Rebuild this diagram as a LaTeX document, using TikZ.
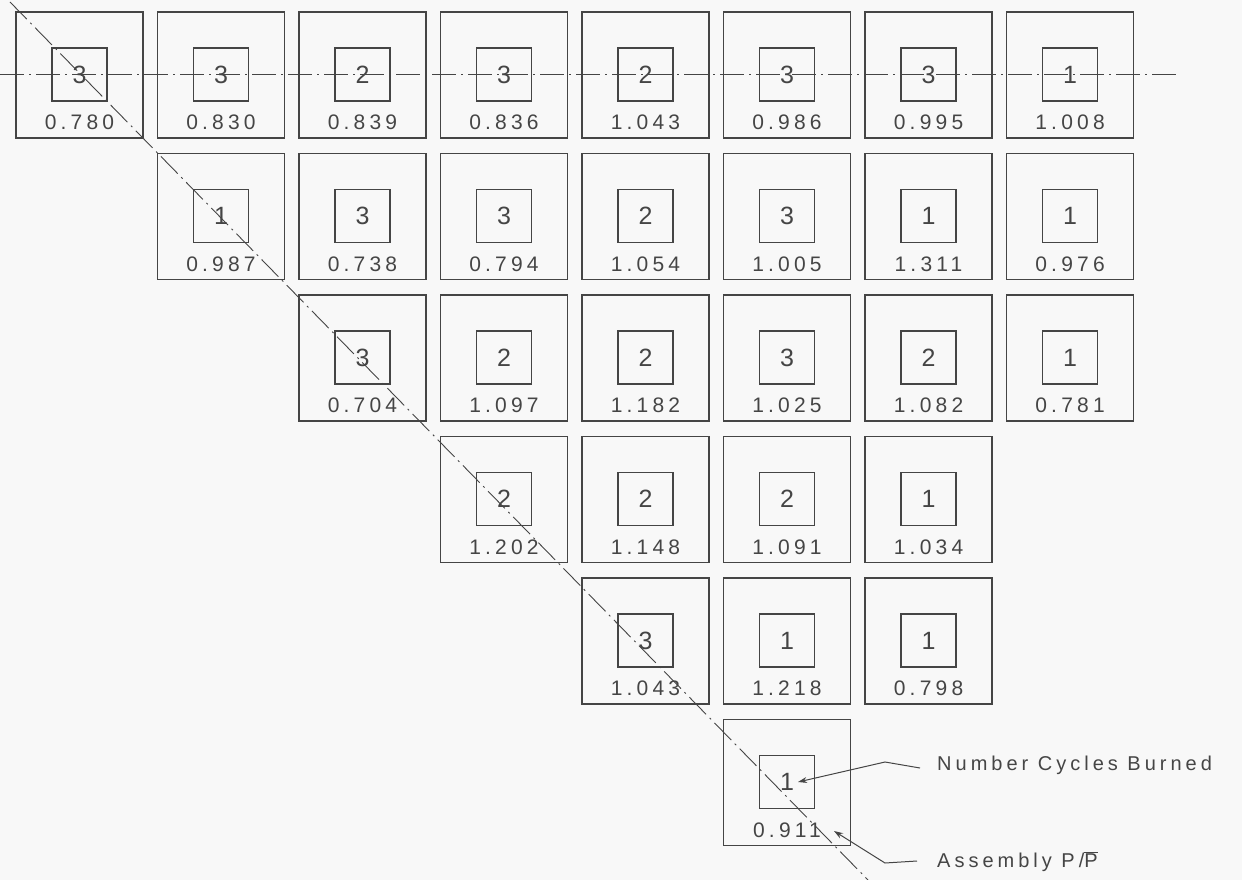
\documentclass[tikz,border=0pt]{standalone}
\usepackage{fontspec}
\setmainfont{Liberation Sans}[LetterSpace=20]
\usetikzlibrary{arrows.meta}
\definecolor{ink}{HTML}{454545}
\definecolor{paper}{HTML}{F8F8F8}
\begin{document}
\begin{tikzpicture}[x=1pt,y=-1pt,
  outerbox/.style={draw=ink, line width=1.1pt, minimum width=127pt, minimum height=126pt, inner sep=0pt},
  innerbox/.style={draw=ink, line width=1.1pt, minimum width=55pt, minimum height=53pt, inner sep=0pt, font=\fontsize{25}{25}\selectfont, text=ink},
  valtext/.style={inner sep=0pt, font=\fontsize{21}{21}\selectfont, text=ink},
  centerline/.style={draw=ink, line width=0.9pt, dash pattern=on 24pt off 5pt on 2pt off 5pt},
  leader/.style={draw=ink, line width=1pt, -{Stealth[length=9pt,width=6pt]}},
  leadlabel/.style={inner sep=0pt, anchor=west, font=\fontsize{20}{20}\selectfont, text=ink}]
\fill[paper] (0,0) rectangle (1242,880);
\useasboundingbox (0,0) rectangle (1242,880);
% centre lines
\coordinate (hL) at (0,74.5);
\coordinate (hR) at (1177,74.5);
\draw[centerline] (hL) -- (hR);
\coordinate (dA) at (10,2);
\coordinate (dB) at (868,880);
\draw[centerline] (dA) -- (dB);
% assemblies
\foreach \rr/\cc/\cyc/\val in {
  0/0/3/0.780, 0/1/3/0.830, 0/2/2/0.839, 0/3/3/0.836, 0/4/2/1.043, 0/5/3/0.986, 0/6/3/0.995, 0/7/1/1.008,
  1/1/1/0.987, 1/2/3/0.738, 1/3/3/0.794, 1/4/2/1.054, 1/5/3/1.005, 1/6/1/1.311, 1/7/1/0.976,
  2/2/3/0.704, 2/3/2/1.097, 2/4/2/1.182, 2/5/3/1.025, 2/6/2/1.082, 2/7/1/0.781,
  3/3/2/1.202, 3/4/2/1.148, 3/5/2/1.091, 3/6/1/1.034,
  4/4/3/1.043, 4/5/1/1.218, 4/6/1/0.798,
  5/5/1/0.911}{
  \pgfmathsetmacro\cx{16+141.5*\cc+63.5}
  \pgfmathsetmacro\cy{12+141.5*\rr+63}
  \node[outerbox] (o\rr\cc) at (\cx,\cy) {};
  \node[innerbox] (i\rr\cc) at (\cx,\cy-0.5) {\cyc};
  \node[valtext] (v\rr\cc) at (\cx,\cy+47.5) {\val};
}
% legend
\node[leadlabel] (ncb) at (937,765) {Number Cycles Burned};
\coordinate (ncbK) at (885,762);
\coordinate (ncbT) at (798,782);
\draw[leader] ([xshift=-17pt,yshift=-3pt]ncb.west) -- (ncbK) -- (ncbT);
\node[leadlabel] (apr) at (937,862) {Assembly P/$\overline{\hbox{P}}$};
\coordinate (aprK) at (885,863);
\coordinate (aprT) at (834,831);
\draw[leader] ([xshift=-20pt,yshift=1pt]apr.west) -- (aprK) -- (aprT);
\end{tikzpicture}
\end{document}
